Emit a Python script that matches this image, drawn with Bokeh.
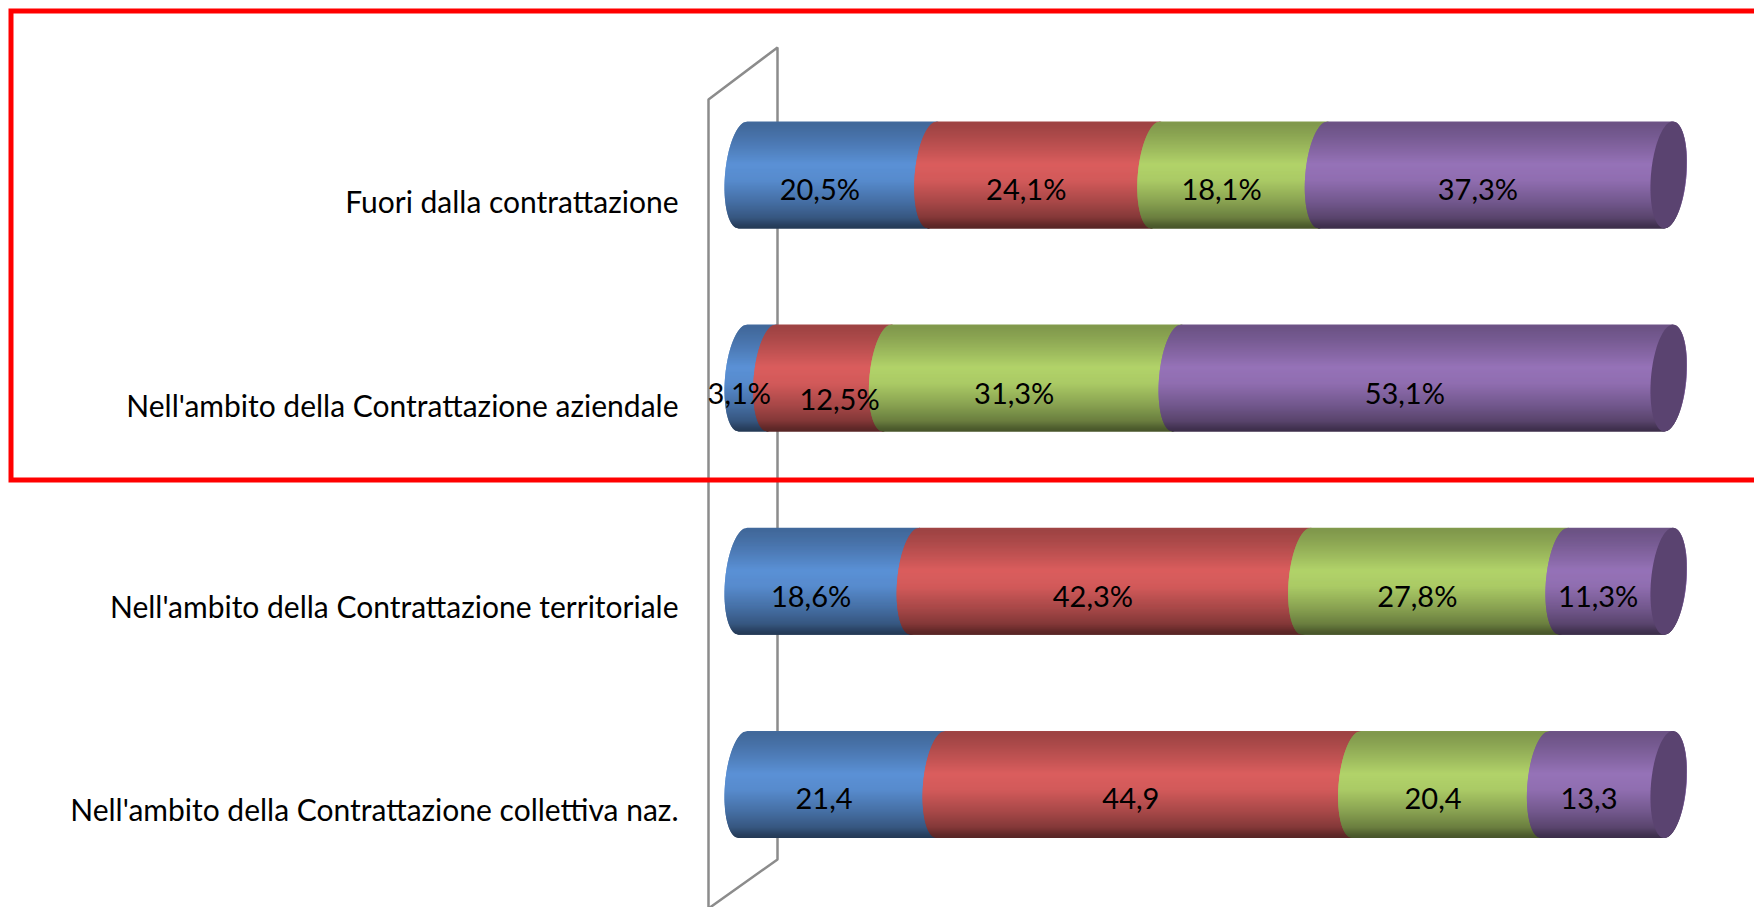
import numpy as np
from bokeh.plotting import figure
from bokeh.models import ColumnDataSource, LinearAxis, FixedTicker, Range1d
from bokeh.core.properties import value
from bokeh.embed import file_html
from bokeh.resources import INLINE

# ---- data (bottom row first) ----
categories = ["Nell'ambito della Contrattazione collettiva naz.",
              "Nell'ambito della Contrattazione territoriale",
              "Nell'ambito della Contrattazione aziendale",
              "Fuori dalla contrattazione"]
series_1 = [21.4, 18.6, 3.1, 20.5]
series_2 = [44.9, 42.3, 12.5, 24.1]
series_3 = [20.4, 27.8, 31.3, 18.1]
series_4 = [13.3, 11.3, 53.1, 37.3]
labels_1 = ["21,4", "18,6%", "3,1%", "20,5%"]
labels_2 = ["44,9", "42,3%", "12,5%", "24,1%"]
labels_3 = ["20,4", "27,8%", "31,3%", "18,1%"]
labels_4 = ["13,3", "11,3%", "53,1%", "37,3%"]
series_colors = ["#5B91D6", "#DB5E5E", "#B2D36A", "#9673B8"]
cap_color = "#5A4370"

# ---- layout: page pixels <-> data ----
W, H = 1754, 907
PX_X0, PX_X100 = 742.5, 1668.0
PX_Y0, PX_ROW = 784.0, 203.2
sx = (PX_X100 - PX_X0) / 100.0
fx = lambda px: (np.asarray(px, dtype=float) - PX_X0) / sx
fy = lambda px: (PX_Y0 - np.asarray(px, dtype=float)) / PX_ROW
A = 18.0 / sx          # half width of the ellipse
S = 4.3 / sx           # shear of the ellipse
B = 53.5 / PX_ROW      # half height of the bar

p = figure(width=W, height=H, output_backend="svg", toolbar_location=None,
           x_range=Range1d(float(fx(0)), float(fx(W))),
           y_range=Range1d(float(fy(H)), float(fy(0))),
           x_axis_location=None, y_axis_location=None,
           min_border=0, outline_line_color=None, background_fill_color="white")
p.grid.visible = False

# ---- wall of the 3D chart ----
GREY = "#8C8C8C"
p.line(fx([708, 708, 777, 777, 708]), fy([907, 99, 47, 859, 908]), line_color=GREY, line_width=2.5)

# ---- highlight box ----
RED = "#FF0000"
p.line(fx([1760, 10.5, 10.5, 1760]), fy([10.5, 10.5, 479.5, 479.5]),
       line_color=RED, line_width=5, line_join="miter")

# ---- cylinders, one thin slice per pixel row, each slice overlapping the next ----
U = [0.0, 0.02, 0.12, 0.28, 0.40, 0.55, 0.75, 0.90, 0.97, 1.0]
F = [0.74, 0.72, 0.78, 0.90, 1.00, 0.96, 0.77, 0.60, 0.44, 0.40]
NB = 107
edges = np.linspace(1, -1, NB + 1)
mids = (np.arange(NB) + 0.5) / NB
shade = np.interp(mids, U, F)
rows = np.array([series_1, series_2, series_3, series_4])
starts = np.vstack([np.zeros(4), np.cumsum(rows, axis=0)[:-1]])
base = [tuple(int(c[i:i + 2], 16) for i in (1, 3, 5)) for c in series_colors]


def edge_x(x, t, sign):
    return x + sign * A * np.sqrt(np.clip(1 - t * t, 0, 1)) + S * t


for k in range(4):
    xs, ys, cs = [], [], []
    for r in range(4):
        a, b = starts[k, r], starts[k, r] + rows[k, r]
        for i in range(NB):
            t0, t1 = edges[i], edges[min(i + 2, NB)]
            tm = edges[i + 1]
            ts = np.array([t0, tm, t1])
            xs.append(np.r_[edge_x(a, ts, -1), edge_x(b, ts[::-1], 1)])
            ys.append(r + B * np.r_[ts, ts[::-1]])
            cs.append("#%02x%02x%02x" % tuple(int(v * shade[i]) for v in base[k]))
    p.patches(xs="xs", ys="ys", fill_color="c", fill_alpha=1.0, line_color=None,
              source=ColumnDataSource(dict(xs=xs, ys=ys, c=cs)))

# ---- end caps ----
th = np.linspace(0, 2 * np.pi, 120)
for r in range(4):
    end = starts[3, r] + rows[3, r]
    p.patch(end + (A - 0.05) * np.cos(th) + S * np.sin(th), r + B * np.sin(th),
            fill_color=cap_color, fill_alpha=1.0, line_color=None)

# ---- value labels ----
tx, ty, tt, ox, oy = [], [], [], [], []
all_labels = [labels_1, labels_2, labels_3, labels_4]
for k in range(4):
    for r in range(4):
        tx.append(starts[k, r] + rows[k, r] / 2)
        ty.append(r)
        tt.append(all_labels[k][r])
        manual = (k == 1 and r == 2)
        ox.append(10 if manual else -18)
        oy.append(20 if manual else 14)
p.text(x="x", y="y", text="t", x_offset="ox", y_offset="oy",
       source=ColumnDataSource(dict(x=tx, y=ty, t=tt, ox=ox, oy=oy)),
       text_font=value("Lato"), text_font_size="29px", text_color="black",
       text_align="center", text_baseline="middle")

# ---- category axis, inside the plot area ----
ticks = [-0.122, 0.878, 1.867, 2.872]
ax = LinearAxis(ticker=FixedTicker(ticks=ticks), fixed_location=float(fx(684)),
                major_label_overrides={t: c for t, c in zip(ticks, categories)},
                axis_line_color=None, major_tick_line_color=None, minor_tick_line_color=None,
                major_label_standoff=0, major_label_text_font="Lato",
                major_label_text_font_size="30px", major_label_text_color="black")
p.add_layout(ax, "left")

open("out.html", "w").write(file_html(p, INLINE))
